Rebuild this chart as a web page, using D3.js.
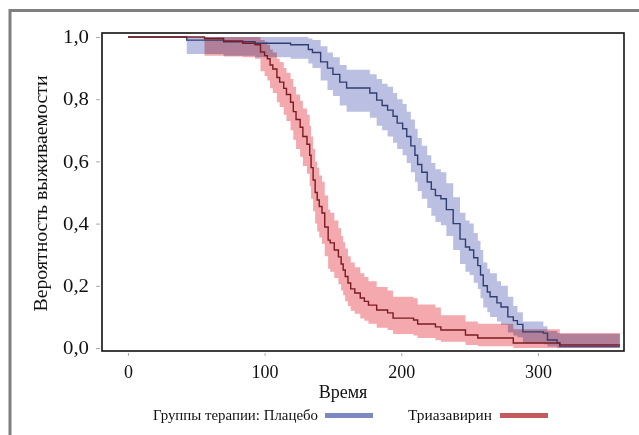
<!DOCTYPE html>
<html><head><meta charset="utf-8">
<script src="https://cdn.jsdelivr.net/npm/d3@7"></script>
<style>body{margin:0;background:#fff}svg{display:block}</style>
</head><body><svg id="c" width="639" height="435"></svg>
<script>
// Placebo (Плацебо)
const placeboTime = [0,43,70,93,119,132,135,141,146,150,155,160,177,182,186,190,194,197,201,204,207,210,212,215,219,222,225,229,233,238,243,247,250,253,256,258,260,263,265,270,273,278,282,285,289,304,307,314,316,360];
const placeboSurv = [1,0.99,0.985,0.98,0.975,0.96,0.95,0.92,0.9,0.88,0.855,0.836,0.82,0.797,0.78,0.765,0.745,0.723,0.705,0.68,0.65,0.62,0.59,0.565,0.534,0.51,0.49,0.48,0.445,0.40,0.35,0.325,0.315,0.29,0.265,0.235,0.2,0.18,0.165,0.145,0.132,0.1,0.088,0.076,0.052,0.048,0.026,0.016,0.006,0.006];
const placeboLow  = [1,0.945,0.94,0.935,0.93,0.915,0.9,0.86,0.83,0.81,0.78,0.76,0.74,0.715,0.7,0.68,0.66,0.64,0.62,0.595,0.565,0.535,0.505,0.48,0.45,0.425,0.405,0.395,0.36,0.315,0.27,0.245,0.235,0.21,0.19,0.16,0.13,0.115,0.10,0.085,0.075,0.05,0.04,0.035,0.015,0.012,0.005,0,0,0];
const placeboHigh = [1,1,1,1,1,0.995,0.99,0.97,0.95,0.935,0.91,0.895,0.88,0.865,0.85,0.84,0.82,0.80,0.785,0.76,0.735,0.705,0.675,0.65,0.62,0.595,0.575,0.565,0.53,0.485,0.435,0.41,0.40,0.37,0.345,0.315,0.275,0.255,0.24,0.215,0.2,0.165,0.135,0.115,0.085,0.07,0.055,0.048,0.045,0.045];

// Triazavirin (Триазавирин)
const triazTime = [0,56,70,84,93,97,100,102,104,106,109,111,114,116,119,121,123,126,128,131,133,134,135.5,137,138.5,140,142,144,146.5,148,151,154,156,157.5,159,161,163,166,170,173,176,182,190,194,209,212,225,229,247,256,282,316,360];
const triazSurv = [1,0.995,0.987,0.98,0.975,0.952,0.94,0.93,0.91,0.897,0.87,0.855,0.835,0.815,0.79,0.76,0.735,0.71,0.68,0.655,0.62,0.58,0.54,0.5,0.476,0.455,0.434,0.389,0.347,0.338,0.315,0.293,0.27,0.251,0.23,0.209,0.19,0.177,0.161,0.15,0.138,0.122,0.113,0.096,0.09,0.077,0.068,0.058,0.042,0.032,0.016,0.01,0.01];
const triazLow  = [1,0.94,0.937,0.935,0.93,0.89,0.875,0.86,0.835,0.82,0.79,0.775,0.75,0.73,0.70,0.67,0.64,0.615,0.585,0.56,0.52,0.48,0.44,0.4,0.375,0.355,0.335,0.295,0.255,0.245,0.225,0.205,0.185,0.17,0.15,0.135,0.12,0.11,0.095,0.088,0.078,0.065,0.058,0.045,0.04,0.032,0.025,0.02,0.01,0.006,0,0,0];
const triazHigh = [1,1,1,1,1,0.99,0.985,0.975,0.96,0.95,0.93,0.92,0.90,0.885,0.865,0.84,0.815,0.795,0.77,0.75,0.715,0.68,0.64,0.6,0.58,0.555,0.535,0.49,0.445,0.435,0.41,0.385,0.36,0.34,0.32,0.295,0.275,0.26,0.24,0.228,0.215,0.196,0.185,0.165,0.16,0.14,0.13,0.105,0.085,0.078,0.06,0.048,0.048];

const xTicks = [0,100,200,300];
const yTicks = [0,0.2,0.4,0.6,0.8,1.0];
const xTitle = "Время";
const yTitle = "Вероятность выживаемости";
const legendTitle = "Группы терапии: Плацебо";
const legendSecond = "Триазавирин";

const svg = d3.select("#c");
const L = 102, R = 624, T = 33, B = 351;
const x = d3.scaleLinear().domain([-19,363]).range([L,R]);
const y = d3.scaleLinear().domain([-0.0096,1.0129]).range([B,T]);
const font = "'Liberation Serif','Times New Roman',serif";

// outer frame
svg.append("rect").attr("x",10).attr("y",10.5).attr("width",700).attr("height",500)
  .attr("fill","none").attr("stroke","#7f7f7f").attr("stroke-width",3);

function mk(t,s,l,h){return t.map((d,i)=>({t:d,s:s[i],l:l[i],h:h[i]}));}
const groups = [
  {data:mk(placeboTime,placeboSurv,placeboLow,placeboHigh), band:"#bbc0e2", line:"#2e3f73"},
  {data:mk(triazTime,triazSurv,triazLow,triazHigh), band:"#f3a9ad", line:"#7c1c22"}
];
const area = d3.area().curve(d3.curveStepAfter).x(d=>x(d.t)).y0(d=>y(d.l)).y1(d=>y(d.h));
const line = d3.line().curve(d3.curveStepAfter).x(d=>x(d.t)).y(d=>y(d.s));

const gb = svg.append("g").style("isolation","isolate");
groups.forEach(g=>{
  gb.append("path").datum(g.data).attr("d",area).attr("fill",g.band)
    .style("mix-blend-mode","multiply");
});
groups.forEach(g=>{
  svg.append("path").datum(g.data).attr("d",line).attr("fill","none")
    .attr("stroke",g.line).attr("stroke-width",1.4);
});

// plot frame
svg.append("rect").attr("x",L).attr("y",T).attr("width",R-L).attr("height",B-T)
  .attr("fill","none").attr("stroke","#111").attr("stroke-width",1.6);

// axes
const fmt = d=>d3.format(".1f")(d).replace(".",",");
const ya = svg.append("g").attr("transform",`translate(${L-2},0)`)
  .call(d3.axisLeft(y).tickValues(yTicks).tickFormat(fmt).tickSize(4).tickPadding(7));
const xa = svg.append("g").attr("transform",`translate(0,${B+2})`)
  .call(d3.axisBottom(x).tickValues(xTicks).tickSize(3).tickPadding(9));
[ya,xa].forEach(a=>{
  a.select(".domain").remove();
  a.selectAll(".tick line").attr("stroke","#aaa");
  a.selectAll("text").attr("font-family",font).attr("font-size",18).attr("fill","#111");
});
ya.selectAll("text").attr("textLength",26).attr("lengthAdjust","spacingAndGlyphs");

svg.append("text").attr("x",343).attr("y",398).attr("text-anchor","middle")
  .attr("font-family",font).attr("font-size",18).attr("fill","#111").text(xTitle);
svg.append("text").attr("transform","translate(47,193.5) rotate(-90)").attr("text-anchor","middle")
  .attr("font-family",font).attr("font-size",18).attr("fill","#111")
  .attr("textLength",236).attr("lengthAdjust","spacingAndGlyphs").text(yTitle);

// legend
svg.append("text").attr("x",153).attr("y",420)
  .attr("font-family",font).attr("font-size",14).attr("fill","#111")
  .attr("textLength",165).attr("lengthAdjust","spacingAndGlyphs").text(legendTitle);
svg.append("rect").attr("x",325).attr("y",413).attr("width",48).attr("height",5).attr("fill","#7b88c2");
svg.append("text").attr("x",408).attr("y",420)
  .attr("font-family",font).attr("font-size",14).attr("fill","#111")
  .attr("textLength",84).attr("lengthAdjust","spacingAndGlyphs").text(legendSecond);
svg.append("rect").attr("x",500).attr("y",413).attr("width",48).attr("height",5).attr("fill","#c45a60");
</script></body></html>
